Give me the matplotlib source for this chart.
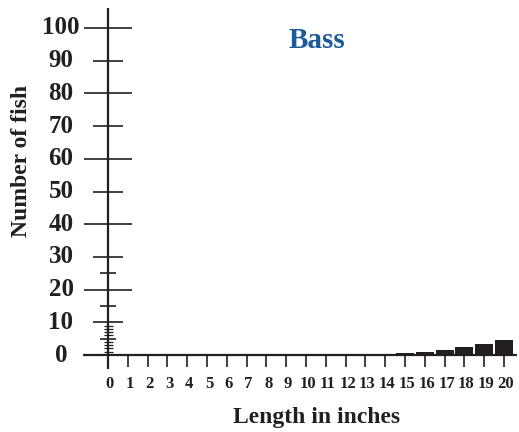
import matplotlib
matplotlib.use("Agg")
import matplotlib.pyplot as plt

# Fish length histogram data
lengths = list(range(0, 21))
fish_lengths = [15, 16, 17, 18, 19, 20]
fish_counts = [0.5, 1.0, 1.5, 2.4, 3.5, 4.5]

y_labels = [0, 10, 20, 30, 40, 50, 60, 70, 80, 90, 100]
major_y = [0, 20, 40, 60, 80, 100]
medium_y = [10, 30, 50, 70, 90]
small_y = [5, 15, 25]
tiny_y = [1, 2, 3, 4, 6, 7, 8, 9]

title = "Bass"
x_title = "Length in inches"
y_title = "Number of fish"

ink = "#231f20"
font = "Liberation Serif"

# pixel scale: 19.8 px per inch on x, 3.27 px per fish on y
sx = 19.8
sy = 3.27

fig = plt.figure(figsize=(5.19, 4.32), dpi=100)
ax = fig.add_axes([0, 0, 1, 1])
ax.set_xlim(-108 / sx, (519 - 108) / sx)
ax.set_ylim(-(432 - 355) / sy, 355 / sy)
ax.axis("off")

# bars
ax.bar(fish_lengths, fish_counts, width=0.9, color=ink, zorder=3)

lw = 1.6
# axes lines
ax.plot([0, 0], [(355 - 8) / sy, -(369 - 355) / sy], color=ink, lw=lw, solid_capstyle="butt")
ax.plot([-25 / sx, (517 - 108) / sx], [0, 0], color=ink, lw=lw, solid_capstyle="butt")

# y ticks of several lengths
for vals, half in [(major_y, 24), (medium_y, 15), (small_y, 8), (tiny_y, 4.5)]:
    for v in vals:
        ax.plot([-half / sx, half / sx], [v, v], color=ink, lw=1.2 if half > 5 else 0.9,
                solid_capstyle="butt")

# x ticks
for x in lengths[1:]:
    ax.plot([x, x], [0, -12 / sy], color=ink, lw=1.2, solid_capstyle="butt")

# tick labels
for v in y_labels:
    ax.text(-47 / sx, v, str(v), ha="center", va="center", fontsize=18,
            fontweight="bold", family=font, color=ink)
for x in lengths:
    ax.text(x + 0.1, -29 / sy, str(x), ha="center", va="center", fontsize=12,
            fontweight="bold", family=font, color=ink)

ax.text(209 / sx, (355 - 40) / sy, title, ha="center", va="center", fontsize=21,
        fontweight="bold", family=font, color="#1c5a9a")
ax.text(209 / sx, -(423 - 355) / sy, x_title, ha="center", va="baseline", fontsize=17,
        fontweight="bold", family=font, color=ink)
ax.text(-86 / sx, (355 - 161) / sy, y_title, ha="center", va="center", rotation=90,
        fontsize=17, fontweight="bold", family=font, color=ink)

fig.savefig("out.png", dpi=100)
